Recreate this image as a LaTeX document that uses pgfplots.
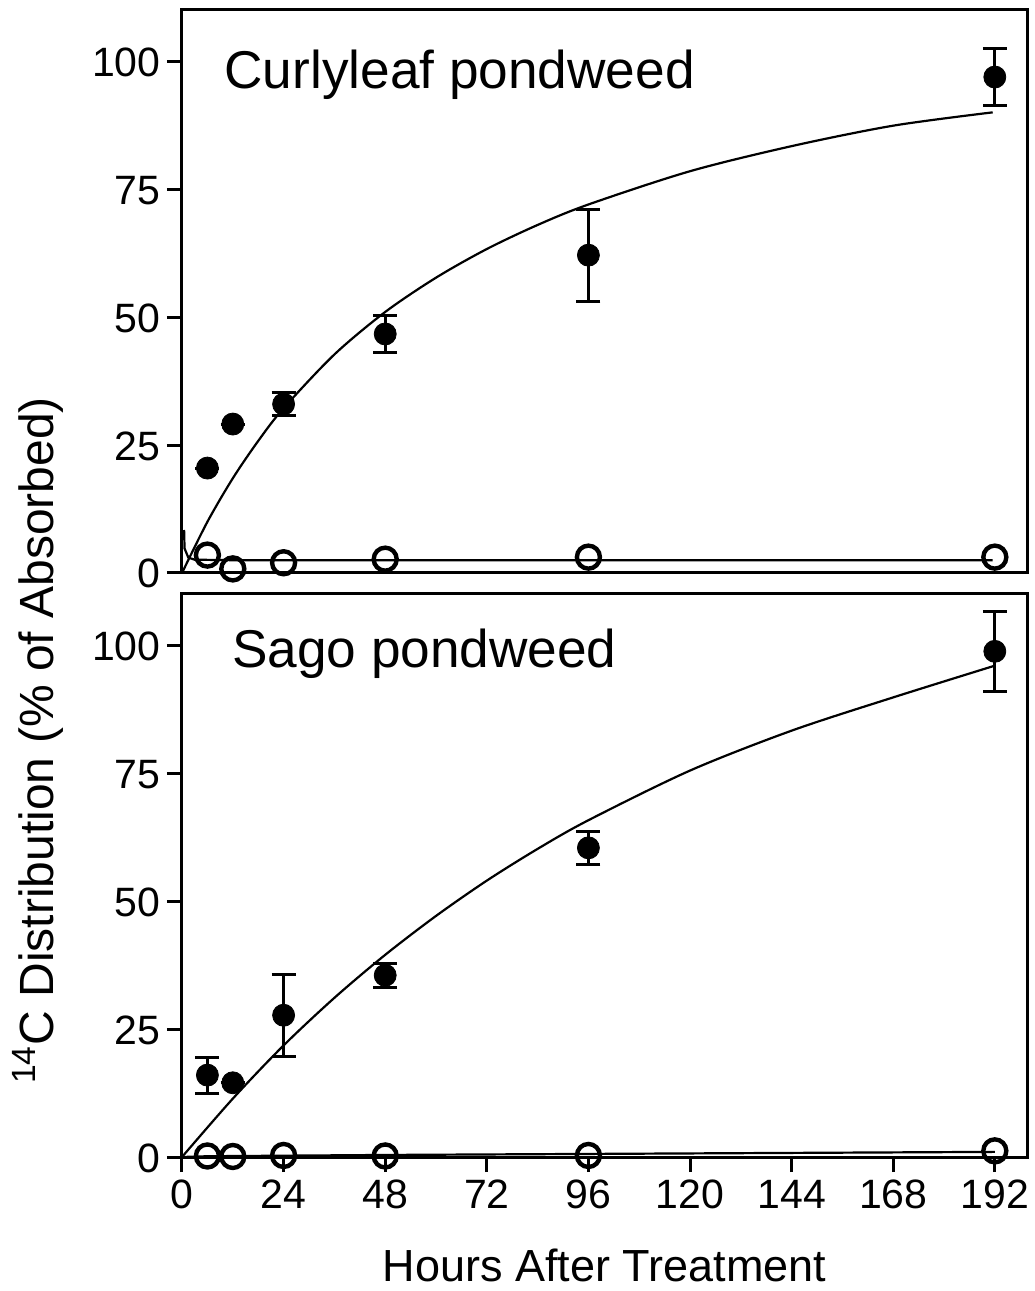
\documentclass[border=0pt]{standalone}
\usepackage{fontspec}
\setmainfont{Liberation Sans}
\usepackage{pgfplots}
\pgfplotsset{compat=1.18}
\pgfplotsset{
  panel/.style={
    scale only axis, width=422.5pt, height=281.5pt,
    xmin=0, xmax=199.6, ymin=0, ymax=110,
    axis line style={line width=1.5pt},
    every tick/.style={line width=1.5pt, black},
    major tick length=7.5pt,
    tick align=outside,
    ytick={0,25,50,75,100},
    xtick={0,24,...,192},
    xtick pos=bottom, ytick pos=left,
    tick label style={font=\fontsize{20.5}{20.5}\selectfont, text height=15pt, text depth=0pt},
    yticklabel style={inner sep=3pt},
    xticklabel style={inner sep=3pt},
    /pgf/number format/assume math mode=true,
    clip=false,
  },
  filled/.style={only marks, mark=*, mark size=5.5pt, black,
    error bars/.cd, y dir=both, y explicit,
    error bar style={line width=1.5pt, black},
    error mark options={rotate=90, mark size=6pt, line width=1.5pt, black}},
  open/.style={only marks, mark=o, mark size=5.75pt, black, mark options={line width=2.2pt}},
  fit/.style={no marks, black, line width=1.1pt, smooth},
}
\begin{document}
\begin{tikzpicture}
\useasboundingbox (-91pt,-67pt) rectangle (426pt,578.5pt);
% top panel
\begin{axis}[panel, at={(0,292pt)}, anchor=south west, xtick=\empty]
\addplot[fit] coordinates {(0,0) (6,10.0) (12,18.5) (18,25.8) (24,32.2) (36,42.7) (48,51.0) (60,57.7) (72,63.3) (84,68.0) (96,72.0) (120,78.5) (144,83.4) (168,87.4) (191.5,90.0)};
\addplot[no marks, black, line width=1.1pt] coordinates {(0.5,8.4) (0.6,4.8) (1.5,3.0) (3,2.6) (12,2.5) (191.5,2.5)};
\addplot[filled] table[x=x,y=y,y error=e] {
x y e
6 20.5 0
12 29.1 0
24 33.0 2.2
48 46.7 3.7
96 62.1 9.0
192 96.9 5.5
};
\addplot[open] coordinates {(6,3.5) (12,0.8) (24,2.0) (48,2.7) (96,3.1) (192,3.1)};
\node[anchor=base west, font=\fontsize{26.6}{26.6}\selectfont] at (rel axis cs:0.042,0.861) {Curlyleaf pondweed};
\end{axis}
% bottom panel
\begin{axis}[panel, at={(0,0)}, anchor=south west]
\addplot[fit] coordinates {(0,0) (12,11.4) (24,21.8) (36,31.1) (48,39.5) (60,47.1) (72,54.0) (84,60.2) (96,65.8) (120,75.5) (144,83.3) (168,89.8) (192,96.0)};
\addplot[no marks, black, line width=1.1pt] coordinates {(0,0) (6,0.15) (48,0.4) (96,0.6) (192,1.0)};
\addplot[filled] table[x=x,y=y,y error=e] {
x y e
6 16.0 3.5
12 14.5 0
24 27.7 8.0
48 35.5 2.4
96 60.4 3.2
192 98.8 7.8
};
\addplot[open] coordinates {(6,0.2) (12,0.1) (24,0.3) (48,0.2) (96,0.3) (192,1.2)};
\node[anchor=base west, font=\fontsize{26.6}{26.6}\selectfont] at (rel axis cs:0.051,0.869) {Sago pondweed};
\node[anchor=base, font=\fontsize{22.5}{22.5}\selectfont] at (rel axis cs:0.5,0) [yshift=-62pt] {Hours After Treatment};
\node[xshift=-72pt, rotate=90, anchor=center, font=\fontsize{24}{24}\selectfont] at (rel axis cs:0,0.74) {\textsuperscript{14}C Distribution (\% of Absorbed)};
\end{axis}
\end{tikzpicture}
\end{document}
